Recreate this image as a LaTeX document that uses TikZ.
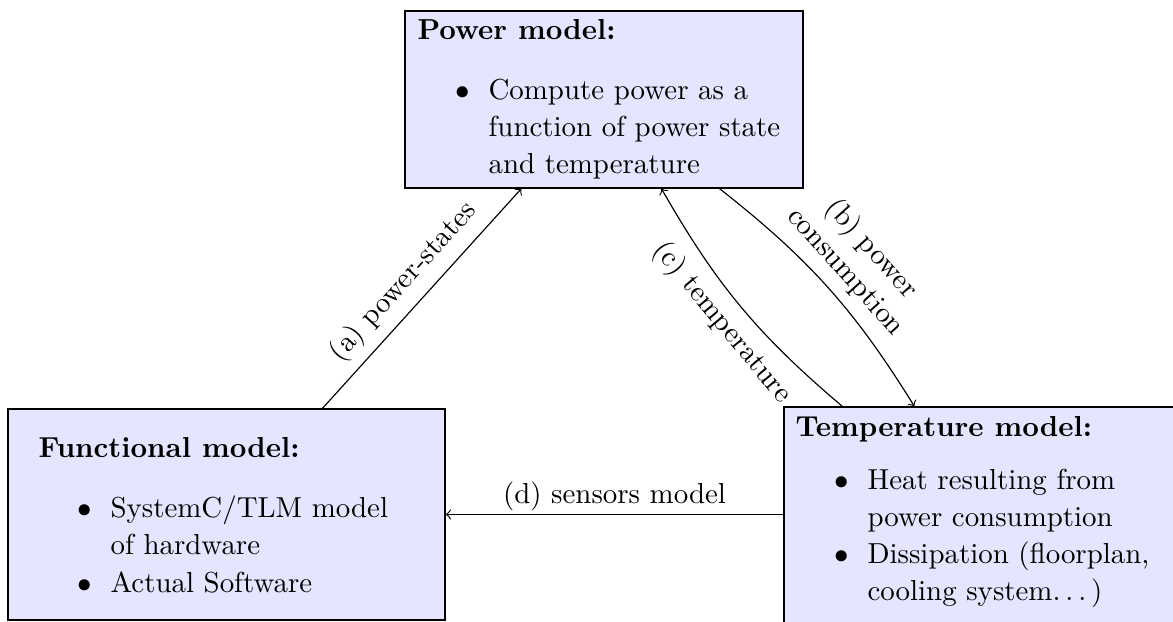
\documentclass[tikz,border=0pt]{standalone}
\usetikzlibrary{calc,fit}
\tikzset{
  box/.style={draw=black, fill=blue!10, line width=0.4pt, inner sep=0pt},
  txt/.style={anchor=base west, inner sep=0pt, font=\fontsize{10pt}{12pt}\selectfont},
  ttl/.style={anchor=base west, inner sep=0pt, font=\fontsize{10pt}{12pt}\selectfont\bfseries},
  bul/.style={anchor=base, inner sep=0pt},
  conn/.style={->, draw=black},
  lbl/.style={font=\fontsize{10pt}{12pt}\selectfont},
}
\begin{document}
\begin{tikzpicture}[x=0.346pt,y=-0.346pt]
\useasboundingbox (0,0) rectangle (1173,622);
\clip (0,0) rectangle (1173,622);
% boxes
\node[box, fit={(405,11) (803,188)}] (power) {};
\node[box, fit={(8,409) (445,620)}] (func) {};
\node[box, fit={(784,407) (1200,660)}] (temp) {};
% power model text
\node[ttl] (pt) at (417,40) {Power model:};
\node[bul] (pb1) at (463,100) {$\bullet$};
\node[txt] (p1) at (488,100) {Compute power as a};
\node[txt] (p2) at (488,137) {function of power state};
\node[txt] (p3) at (488,174) {and temperature};
% functional model text
\node[ttl] (ft) at (38,458) {Functional model:};
\node[bul] (fb1) at (85,518) {$\bullet$};
\node[txt] (f1) at (110,518) {SystemC/TLM model};
\node[txt] (f2) at (110,555) {of hardware};
\node[bul] (fb2) at (85,592) {$\bullet$};
\node[txt] (f3) at (110,592) {Actual Software};
% temperature model text
\node[ttl] (tt) at (795,437) {Temperature model:};
\node[bul] (tb1) at (842,490) {$\bullet$};
\node[txt] (t1) at (867,490) {Heat resulting from};
\node[txt] (t2) at (867,527) {power consumption};
\node[bul] (tb2) at (842,563) {$\bullet$};
\node[txt] (t3) at (867,563) {Dissipation (floorplan,};
\node[txt] (t4) at (867,600) {cooling system.\kern1.67pt.\kern1.67pt.\kern1.67pt)};
% connectors
\draw[conn] ($(func.north west)+(315,0)$) -- node[lbl, midway, sloped, above] {(a) power-states} ($(power.south west)+(117,0)$);
\draw[conn] ($(power.south west)+(315,0)$) to[bend left=10] node[lbl, midway, sloped, above, align=center] {(b) power\\consumption} ($(temp.north west)+(131,0)$);
\draw[conn] ($(temp.north west)+(59,0)$) to[bend left=10] node[lbl, midway, sloped, below] {(c) temperature} ($(power.south west)+(257,0)$);
\coordinate (dstart) at ($(temp.north west)+(0,108)$);
\draw[conn] (dstart) -- node[lbl, above, inner sep=1pt] {(d) sensors model} (func.east |- dstart);
\end{tikzpicture}
\end{document}
